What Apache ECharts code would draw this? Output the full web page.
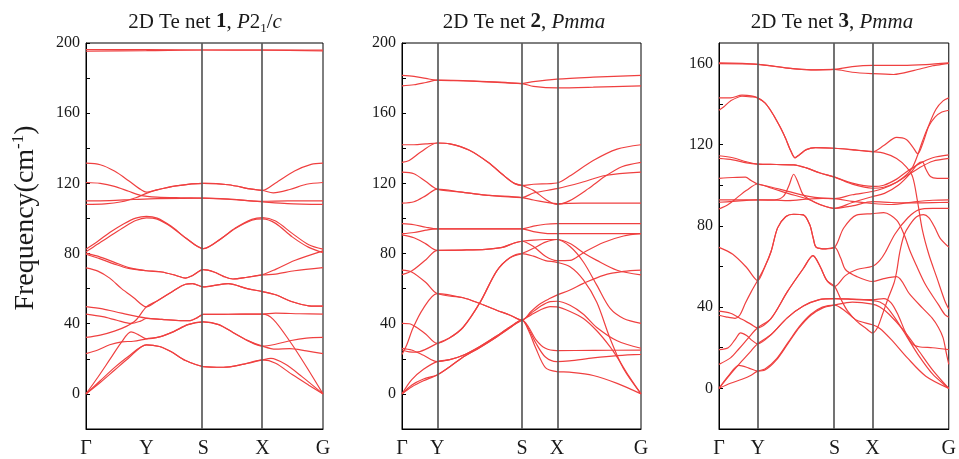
<!DOCTYPE html>
<html>
<head>
<meta charset="utf-8">
<script src="https://cdn.jsdelivr.net/npm/echarts@6/dist/echarts.min.js"></script>
<style>
  html, body { margin: 0; padding: 0; background: #fff; }
  #chart { width: 959px; height: 459px; }
</style>
</head>
<body>
<div id="chart"></div>
<script>
  // high-symmetry path labels and their positions along k (0..1) for each net
  const kLabels = ['Γ', 'Y', 'S', 'X', 'G']
  const kpts1 = [0, 0.255, 0.495, 0.745, 1]
  const kpts2 = [0, 0.147, 0.502, 0.648, 1]
  const kpts3 = [0, 0.168, 0.503, 0.668, 1]

  // gray separators drawn in each panel (net 1 has none at Y)
  const vlines1 = [0.495, 0.745]
  const vlines2 = [0.147, 0.502, 0.648]
  const vlines3 = [0.168, 0.503, 0.668]

  const yLabels12 = [0, 40, 80, 120, 160, 200]
  const yTicks12 = [0, 20, 40, 60, 80, 100, 120, 140, 160, 180, 200]
  const yLabels3 = [0, 40, 80, 120, 160]
  const yTicks3 = [0, 20, 40, 60, 80, 100, 120, 140, 160]

  // phonon branches, [k, frequency in cm-1]
  const net1Bands = [
    [[0,196.3],[0.255,196.2],[0.495,196],[0.745,196],[1,196]],
    [[0,195.4],[0.255,195.6],[0.495,196],[0.745,195.9],[1,195.5]],
    [[0,131.5],[0.06,130.6],[0.12,127],[0.18,121.5],[0.225,117],[0.255,115],[0.3,116.3],[0.38,118.6],[0.495,120],[0.6,119.2],[0.7,116.7],[0.745,116],[0.8,120.2],[0.88,127],[0.95,130.8],[1,131.5]],
    [[0,120.5],[0.06,120],[0.12,118.3],[0.18,115.5],[0.23,113.2],[0.3,112.2],[0.4,111.8],[0.495,111.6],[0.6,111],[0.745,109.8],[0.85,110],[1,110]],
    [[0,110],[0.1,110.2],[0.2,110.8],[0.3,111.3],[0.495,111.6],[0.6,111],[0.745,109.5],[0.85,108.5],[1,108]],
    [[0,108],[0.08,108.3],[0.15,109.5],[0.21,111.8],[0.255,114.3],[0.3,116.3],[0.38,118.6],[0.495,120],[0.6,119.2],[0.7,116.7],[0.745,116],[0.79,114.6],[0.86,116.5],[0.93,119.5],[1,120.5]],
    [[0,82.5],[0.05,87],[0.1,92],[0.16,97],[0.21,100.2],[0.255,101.2],[0.3,100.2],[0.36,95.5],[0.42,89],[0.495,82.8],[0.57,88.5],[0.63,94.5],[0.7,99.5],[0.745,100.5],[0.8,98.5],[0.87,91.5],[0.94,85],[1,82.5]],
    [[0,81],[0.05,85.5],[0.1,89.8],[0.16,95],[0.21,98.8],[0.255,100.3],[0.3,99.6],[0.36,95.2],[0.42,88.9],[0.495,82.8],[0.57,88.5],[0.63,94.3],[0.7,99],[0.745,99.8],[0.8,97.2],[0.87,89.5],[0.94,83.5],[1,80.5]],
    [[0,80.2],[0.06,78],[0.12,75],[0.18,72],[0.255,70.2],[0.32,69.5],[0.38,67.5],[0.42,66],[0.45,67.5],[0.495,70.8],[0.54,69.5],[0.58,67],[0.62,65.5],[0.68,66.5],[0.745,68],[0.8,71],[0.88,76],[1,81.5]],
    [[0,79.6],[0.06,77],[0.12,74],[0.18,71.5],[0.255,70.2],[0.32,69.5],[0.38,67.5],[0.42,66],[0.45,67.5],[0.495,70.8],[0.54,69.5],[0.58,67],[0.62,65.5],[0.68,66.5],[0.745,67.8],[0.8,68.3],[0.88,70.2],[1,72]],
    [[0,71.8],[0.05,70],[0.1,66],[0.15,60],[0.2,55],[0.255,49.6],[0.3,53],[0.36,58],[0.42,62.5],[0.45,62.8],[0.495,61],[0.55,62],[0.6,62.8],[0.68,60],[0.745,58.3],[0.8,56.5],[0.87,52.5],[0.94,50.2],[1,50]],
    [[0,32.2],[0.06,33.5],[0.12,35.8],[0.17,38.5],[0.21,42],[0.255,49.6],[0.3,53],[0.36,58],[0.42,62.5],[0.45,62.8],[0.495,61],[0.55,62],[0.6,62.8],[0.68,60],[0.745,58.3],[0.8,56.5],[0.87,52.5],[0.94,50.2],[1,50]],
    [[0,49.8],[0.07,48.5],[0.15,46],[0.255,43.2],[0.32,42.5],[0.4,41.8],[0.44,41.8],[0.47,43.5],[0.495,45.3],[0.6,45.4],[0.745,45.5],[0.8,46],[0.9,45.7],[1,45.5]],
    [[0,45.5],[0.07,44],[0.13,42],[0.19,40.2],[0.23,41.5],[0.255,43],[0.32,42.5],[0.4,41.8],[0.44,41.8],[0.47,43.5],[0.495,45.3],[0.6,45.4],[0.745,45.5],[0.79,42.5],[0.86,30],[0.93,15.5],[1,0]],
    [[0,0],[0.05,9.5],[0.1,19.5],[0.15,29.5],[0.19,35.3],[0.22,33.8],[0.255,31.4],[0.31,32.5],[0.37,35.5],[0.43,39.5],[0.495,41],[0.56,39.5],[0.62,35],[0.68,30.5],[0.745,27.2],[0.8,25.5],[0.86,25.8],[0.93,24.5],[1,23]],
    [[0,23],[0.05,25],[0.1,28],[0.15,29.7],[0.2,30],[0.255,31.4],[0.31,32.5],[0.37,35.5],[0.43,39.5],[0.495,41],[0.56,39.5],[0.62,35],[0.68,30.5],[0.745,27.2],[0.8,28.3],[0.86,30.3],[0.93,31.8],[1,32.2]],
    [[0,0],[0.06,7.5],[0.12,15],[0.18,21.5],[0.255,28],[0.31,27],[0.36,24],[0.42,19],[0.495,15.6],[0.58,15.2],[0.66,16.8],[0.745,19.4],[0.8,17.5],[0.87,11],[0.94,5],[1,0]],
    [[0,0],[0.06,6.5],[0.12,13.5],[0.18,20.5],[0.255,28],[0.31,27],[0.36,24],[0.42,19],[0.495,15.6],[0.58,15.2],[0.66,16.8],[0.745,19.4],[0.78,20.2],[0.84,17],[0.91,10],[1,0]]
  ]

  const net2Bands = [
    [[0,181.6],[0.05,181],[0.1,179.8],[0.147,178.8],[0.3,178.3],[0.502,176.9],[0.55,178],[0.648,179.4],[0.8,180.5],[1,181.6]],
    [[0,175.6],[0.05,176.2],[0.1,177.5],[0.147,178.8],[0.3,178.3],[0.502,176.9],[0.55,175.3],[0.648,174.4],[0.8,174.8],[1,175.6]],
    [[0,142],[0.05,142],[0.1,142.5],[0.147,143],[0.2,142.5],[0.28,139],[0.36,132],[0.43,124],[0.47,120],[0.502,118.8],[0.55,119.5],[0.648,120.2],[0.7,124],[0.8,133],[0.9,139.5],[1,142]],
    [[0,132],[0.03,133],[0.08,138],[0.147,143],[0.2,142.5],[0.28,139],[0.36,132],[0.43,124],[0.47,120],[0.502,118.8],[0.55,116],[0.6,111],[0.648,108],[0.7,110],[0.78,117],[0.85,124],[0.92,129.5],[1,132]],
    [[0,126.4],[0.05,125.5],[0.1,121],[0.147,116.7],[0.25,115],[0.35,113.3],[0.502,111.9],[0.55,114.5],[0.648,117],[0.75,120.5],[0.85,124.5],[1,126.4]],
    [[0,108.7],[0.05,109.5],[0.1,113],[0.147,116.7],[0.25,115],[0.35,113.3],[0.502,111.9],[0.55,110.5],[0.648,108.5],[0.75,108.7],[1,108.7]],
    [[0,97],[0.05,96.4],[0.1,95],[0.147,94.1],[0.3,94.1],[0.502,94.1],[0.55,95.6],[0.6,96.7],[0.648,97],[0.8,97],[1,97]],
    [[0,91.3],[0.05,92],[0.1,93.3],[0.147,94.1],[0.3,94.1],[0.502,94.1],[0.55,92.5],[0.6,91.5],[0.648,91.3],[0.8,91.3],[1,91.3]],
    [[0,90.6],[0.05,89],[0.1,85.5],[0.147,81.8],[0.25,82],[0.35,82.4],[0.42,83.5],[0.47,86],[0.502,87],[0.55,87.7],[0.6,88],[0.648,88],[0.703,85.7],[0.759,80.5],[0.815,76.1],[0.9,70.5],[1,67.8]],
    [[0,68],[0.04,70],[0.1,76.5],[0.147,81.8],[0.25,82],[0.35,82.4],[0.42,83.5],[0.47,86],[0.502,87],[0.55,84],[0.6,78.5],[0.648,76],[0.703,76.1],[0.759,80.5],[0.843,86.3],[0.927,90],[1,91.3]],
    [[0,70.5],[0.04,69.5],[0.1,63.5],[0.147,57.2],[0.256,54.8],[0.326,51.5],[0.396,47.7],[0.45,45],[0.502,42],[0.54,47],[0.58,51.5],[0.62,54.5],[0.648,56.3],[0.703,59.2],[0.759,63],[0.843,67.6],[0.927,69.8],[1,70.5]],
    [[0,22.5],[0.02,28],[0.046,37.5],[0.088,48.5],[0.147,57.2],[0.256,54.8],[0.326,51.5],[0.396,47.7],[0.45,45],[0.502,42],[0.54,46],[0.58,50],[0.62,52.6],[0.648,52.8],[0.703,50.5],[0.759,45.4],[0.815,37.9],[0.9,30.3],[1,26]],
    [[0,26],[0.04,25],[0.09,22],[0.147,18.4],[0.2,19.5],[0.256,22],[0.326,27],[0.396,33],[0.45,38],[0.502,42],[0.54,45],[0.58,48],[0.62,49.8],[0.648,49.6],[0.703,47],[0.759,43],[0.815,36],[0.87,27],[0.9,21],[0.95,10],[1,0]],
    [[0,0],[0.04,8],[0.09,14],[0.147,18.4],[0.2,19.5],[0.256,22],[0.326,27],[0.396,33],[0.45,38],[0.502,42],[0.53,38],[0.56,31],[0.6,26],[0.648,24.7],[0.8,24.8],[1,25]],
    [[0,0],[0.04,5],[0.09,8.5],[0.147,10.8],[0.2,15.5],[0.256,21],[0.326,26.5],[0.396,32.5],[0.45,37.5],[0.502,42],[0.53,37],[0.56,29],[0.6,21],[0.648,18.4],[0.7,18.8],[0.8,20.5],[0.9,21.8],[1,22.5]],
    [[0,0],[0.04,4],[0.09,7.5],[0.147,10.8],[0.2,15.5],[0.256,21],[0.326,26.5],[0.396,32.5],[0.45,37.5],[0.502,42],[0.53,36],[0.56,26],[0.6,15],[0.648,12.7],[0.7,12.4],[0.8,10.5],[0.9,6],[1,0]],
    [[0,40.2],[0.03,40],[0.06,38],[0.1,34],[0.147,28.8],[0.2,32],[0.256,38],[0.326,52],[0.396,70],[0.45,77.5],[0.502,80],[0.55,83],[0.6,86.5],[0.648,88],[0.703,84],[0.759,75.2],[0.815,62],[0.871,48.7],[0.927,43],[1,40.2]],
    [[0,25],[0.03,24],[0.06,23.8],[0.1,25.5],[0.147,28.8],[0.2,32],[0.256,38],[0.326,52],[0.396,70],[0.45,77.5],[0.502,80],[0.55,78.5],[0.6,76],[0.648,75],[0.703,72.5],[0.759,65],[0.815,52.2],[0.871,31.4],[0.927,14.3],[1,0]]
  ]

  const net3Bands = [
    [[0,160.2],[0.168,159.5],[0.3,157.6],[0.4,156.8],[0.503,157],[0.58,158.4],[0.668,159],[0.8,159],[0.9,159.4],[1,160.2]],
    [[0,159.8],[0.168,159.5],[0.3,157.6],[0.4,156.8],[0.503,157],[0.58,155.6],[0.668,154.9],[0.76,154.5],[0.85,156.5],[0.93,158.8],[1,160]],
    [[0,143],[0.05,143],[0.1,144.3],[0.14,144],[0.168,143],[0.2,140.5],[0.227,136.4],[0.25,132],[0.269,128],[0.29,123],[0.31,117.5],[0.331,113.5],[0.35,115],[0.38,117.5],[0.42,118.5],[0.503,118.2],[0.6,117.3],[0.668,116.5],[0.717,119.5],[0.773,123.5],[0.815,122.5],[0.845,118.5],[0.865,115.5],[0.885,120],[0.915,130],[0.945,137.5],[0.975,141.5],[1,143]],
    [[0,136.9],[0.02,138.5],[0.05,141.5],[0.1,143.8],[0.14,143.5],[0.168,143],[0.2,140.5],[0.227,136.4],[0.25,132],[0.269,128],[0.29,123],[0.31,117.5],[0.331,113.5],[0.35,115],[0.38,117.5],[0.42,118.5],[0.503,118.2],[0.6,117.2],[0.668,116.5],[0.717,115.8],[0.773,113.2],[0.815,109],[0.843,104],[0.864,92],[0.885,78],[0.913,66],[0.948,54.5],[0.983,43],[1,39]],
    [[0,114.5],[0.06,113.5],[0.12,111.5],[0.168,110.4],[0.25,110.2],[0.325,110],[0.38,108.5],[0.44,106],[0.503,104],[0.58,101],[0.668,99.4],[0.717,100],[0.773,103],[0.815,106.5],[0.871,110.5],[0.93,113.5],[1,114.9]],
    [[0,113.2],[0.06,112.5],[0.12,111],[0.168,110.4],[0.25,110.2],[0.325,110],[0.38,108.5],[0.44,106],[0.503,104],[0.58,100.5],[0.668,98.5],[0.717,99],[0.773,101.5],[0.815,104.5],[0.871,108.5],[0.93,111.8],[1,113.2]],
    [[0,103.4],[0.06,103.8],[0.115,104],[0.14,102.3],[0.168,100.6],[0.23,99],[0.3,97],[0.39,94.5],[0.45,93.6],[0.503,93.4],[0.58,95.3],[0.668,96.9],[0.717,98.5],[0.773,101.5],[0.815,105],[0.843,109],[0.865,115],[0.885,121.5],[0.91,128.5],[0.94,133.5],[0.97,136],[1,136.9]],
    [[0,88.3],[0.04,90.5],[0.08,94],[0.12,97.5],[0.168,100.6],[0.23,98.5],[0.3,96],[0.39,93],[0.45,90],[0.503,88.6],[0.58,91.5],[0.668,94.4],[0.72,96],[0.78,100],[0.83,105.5],[0.865,110.5],[0.885,111.5],[0.9,108],[0.92,104.3],[0.95,103.4],[1,103.4]],
    [[0,92.8],[0.06,92.8],[0.12,92.8],[0.168,92.8],[0.24,92.8],[0.28,94.5],[0.305,100],[0.325,105.4],[0.345,101],[0.365,95.5],[0.39,93.2],[0.44,90.5],[0.503,88.6],[0.58,89.8],[0.668,91.9],[0.75,91.5],[0.85,91.3],[0.93,91.4],[1,91.6]],
    [[0,91.6],[0.06,92],[0.12,92.5],[0.168,92.8],[0.25,92.6],[0.3,92.4],[0.39,93.2],[0.45,93.5],[0.503,93.4],[0.58,92],[0.668,91],[0.75,90.5],[0.85,91.8],[0.93,92.6],[1,92.8]],
    [[0,69.4],[0.06,66],[0.12,59.5],[0.168,53.1],[0.2,60],[0.227,67.5],[0.255,79],[0.29,84.5],[0.325,85.7],[0.367,85.4],[0.395,80.5],[0.41,74],[0.423,69.5],[0.465,68.7],[0.503,69.4],[0.542,78.8],[0.598,85.3],[0.668,86],[0.717,86.5],[0.773,82.8],[0.806,75.6],[0.83,68],[0.857,61],[0.899,51],[0.955,41.2],[0.983,36.3],[1,35]],
    [[0,36],[0.03,35.2],[0.07,34.5],[0.09,36],[0.115,42],[0.14,47.5],[0.168,53.1],[0.2,60],[0.227,67.5],[0.255,79],[0.29,84.5],[0.325,85.7],[0.367,85.4],[0.395,80.5],[0.41,74],[0.423,69.5],[0.465,68.7],[0.503,69.4],[0.53,64],[0.55,58.5],[0.6,55],[0.668,52.6],[0.717,54],[0.773,55],[0.829,46.5],[0.885,39.6],[0.927,34.7],[0.955,30],[0.975,25],[0.99,17],[1,11.8]],
    [[0,38],[0.05,37],[0.1,34],[0.14,31.5],[0.168,29.8],[0.227,34.5],[0.297,47.5],[0.367,59],[0.409,65.3],[0.44,60],[0.47,53],[0.503,50.2],[0.55,55.5],[0.6,58.5],[0.668,60.1],[0.7,63],[0.724,67],[0.766,76],[0.822,84],[0.871,88],[0.93,88.6],[1,88.6]],
    [[0,11.8],[0.05,15],[0.087,19.5],[0.129,25],[0.168,29.8],[0.227,34.5],[0.297,47.5],[0.367,59],[0.409,65.3],[0.44,60],[0.47,53],[0.503,50.2],[0.53,44],[0.56,38],[0.6,33],[0.64,29.5],[0.668,27.3],[0.69,30],[0.71,36],[0.735,44],[0.762,52],[0.773,57.4],[0.787,67.2],[0.806,75.6],[0.83,80.5],[0.86,84.5],[0.89,85.5],[0.913,84],[0.94,79],[0.962,74],[1,69.5]],
    [[0,19.1],[0.04,20],[0.07,24],[0.094,27.3],[0.12,26],[0.145,23.5],[0.168,21.9],[0.227,26.5],[0.297,34.7],[0.367,40.5],[0.437,43.7],[0.503,44.2],[0.58,44],[0.668,43.7],[0.717,44.2],[0.75,42],[0.78,36],[0.81,28],[0.84,22],[0.87,20.5],[0.93,20],[1,19.1]],
    [[0,0],[0.05,7],[0.1,13.5],[0.14,18.5],[0.168,21.9],[0.227,26.5],[0.297,34.7],[0.367,40.5],[0.437,43.7],[0.503,44.2],[0.58,43.8],[0.668,43.2],[0.7,42.5],[0.73,40],[0.77,34],[0.82,25],[0.87,16],[0.93,7],[1,0]],
    [[0,0],[0.04,6],[0.087,11.3],[0.13,10],[0.168,8.5],[0.2,9],[0.25,14],[0.3,22],[0.35,30],[0.4,36],[0.45,39.5],[0.503,41],[0.58,42.5],[0.668,41.5],[0.7,40],[0.74,36.5],[0.8,29],[0.86,20],[0.93,9],[1,0]],
    [[0,0],[0.05,2.5],[0.1,4.5],[0.14,6.5],[0.168,8.5],[0.2,9.5],[0.25,14.5],[0.3,22.5],[0.35,30.5],[0.4,36.5],[0.45,40],[0.503,41],[0.55,38],[0.6,33.5],[0.668,31.3],[0.7,29.5],[0.75,24],[0.82,15],[0.9,6],[1,0]]
  ]

  const panelTitles = [
    '{n|2D Te net }{b|1}{n|, }{i|P}{n|2}{s|1}{n|/}{i|c}',
    '{n|2D Te net }{b|2}{n|, }{i|Pmma}',
    '{n|2D Te net }{b|3}{n|, }{i|Pmma}'
  ]

  const serif = '"Times New Roman", "Liberation Serif", serif'
  const bandColor = '#ef4040'
  const textColor = '#1a1a1a'

  const titleRich = {
    n: { fontFamily: serif, fontSize: 21, fontWeight: 'normal', color: textColor, lineHeight: 26 },
    b: { fontFamily: serif, fontSize: 21, fontWeight: 'bold', color: textColor, lineHeight: 26 },
    i: { fontFamily: serif, fontSize: 21, fontWeight: 'normal', fontStyle: 'italic', color: textColor, lineHeight: 26 },
    s: { fontFamily: serif, fontSize: 13, fontWeight: 'normal', color: textColor, lineHeight: 13, verticalAlign: 'bottom' }
  }

  const makeX = (idx, kpts) => ({
    type: 'value',
    gridIndex: idx,
    min: 0,
    max: 1,
    axisLine: { onZero: false, lineStyle: { color: '#000', width: 1 } },
    axisTick: { show: false },
    splitLine: { show: false },
    axisLabel: {
      customValues: kpts,
      formatter: (v) => {
        const i = kpts.findIndex(k => Math.abs(k - v) < 1e-6)
        return i >= 0 ? kLabels[i] : ''
      },
      fontFamily: serif,
      fontSize: 20,
      color: textColor,
      margin: 10
    }
  })

  const makeY = (idx, max, labels, ticks) => ({
    type: 'value',
    gridIndex: idx,
    min: -20,
    max: max,
    axisLine: { show: true, onZero: false, lineStyle: { color: '#000', width: 1 } },
    axisTick: { show: true, inside: true, length: 4, customValues: ticks, lineStyle: { color: '#000' } },
    splitLine: { show: false },
    axisLabel: { customValues: labels, fontFamily: serif, fontSize: 16, color: textColor, margin: 6 }
  })

  const bandSeries = (bands, idx) => bands.map(b => ({
    type: 'line',
    xAxisIndex: idx,
    yAxisIndex: idx,
    data: b,
    showSymbol: false,
    smooth: 0.3,
    silent: true,
    z: 3,
    lineStyle: { color: bandColor, width: 1.2 }
  }))

  const separatorSeries = (vlines, idx) => ({
    type: 'line',
    xAxisIndex: idx,
    yAxisIndex: idx,
    data: [],
    z: 2,
    markLine: {
      silent: true,
      symbol: ['none', 'none'],
      label: { show: false },
      lineStyle: { color: '#5a5a5a', width: 1.7, type: 'solid' },
      data: vlines.map(v => ({ xAxis: v }))
    }
  })

  const chart = echarts.init(document.getElementById('chart'), null, { renderer: 'canvas' })

  const yAxes = [
    makeY(0, 200, yLabels12, yTicks12),
    makeY(1, 200, yLabels12, yTicks12),
    makeY(2, 170, yLabels3, yTicks3)
  ]
  // axis title only on the first panel, nudged up like the original
  Object.assign(yAxes[0], {
    name: '{n|Frequency(cm}{s|-1}{n|)}',
    nameLocation: 'middle',
    nameGap: 44,
    nameRotate: 90,
    nameTextStyle: {
      padding: [0, 0, 0, 36],
      rich: {
        n: { fontFamily: serif, fontSize: 28, color: textColor, lineHeight: 32 },
        s: { fontFamily: serif, fontSize: 17, color: textColor, lineHeight: 17, verticalAlign: 'top' }
      }
    }
  })

  const option = {
    animation: false,
    backgroundColor: '#fff',
    title: [205, 524, 832].map((cx, i) => ({
      text: panelTitles[i],
      left: cx,
      top: 9,
      padding: 0,
      textAlign: 'center',
      textStyle: { fontWeight: 'normal', rich: titleRich }
    })),
    grid: [
      { left: 86, top: 43, width: 237, height: 388, show: true, borderColor: '#000', borderWidth: 1, backgroundColor: 'transparent' },
      { left: 402, top: 43, width: 239, height: 388, show: true, borderColor: '#000', borderWidth: 1, backgroundColor: 'transparent' },
      { left: 719, top: 43, width: 238, height: 388, show: true, borderColor: '#000', borderWidth: 1, backgroundColor: 'transparent' }
    ],
    xAxis: [makeX(0, kpts1), makeX(1, kpts2), makeX(2, kpts3)],
    yAxis: yAxes,
    series: [
      separatorSeries(vlines1, 0),
      separatorSeries(vlines2, 1),
      separatorSeries(vlines3, 2),
      ...bandSeries(net1Bands, 0),
      ...bandSeries(net2Bands, 1),
      ...bandSeries(net3Bands, 2)
    ]
  }

  chart.setOption(option)
</script>
</body>
</html>
